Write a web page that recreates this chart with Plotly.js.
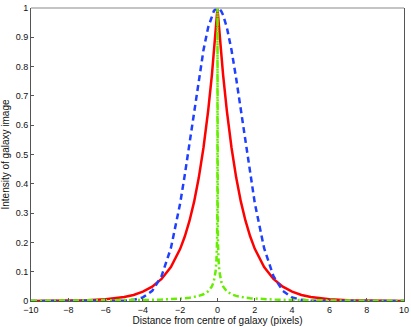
<!DOCTYPE html>
<html>
<head>
<meta charset="utf-8">
<script src="https://cdn.plot.ly/plotly-3.0.1.min.js"></script>
<style>html,body{margin:0;padding:0;background:#fff;}#chart{width:411px;height:327px;}</style>
</head>
<body>
<div id="chart"></div>
<script>
// Sample positions (pixels from galaxy centre)
var xPos = [-10,-9,-8,-7,-6,-5,-4.5,-4,-3.5,-3,-2.5,-2,-1.75,-1.5,-1.25,-1,-0.75,-0.5,-0.3,-0.2,-0.1,-0.05,-0.02,-0.005,0,
            0.005,0.02,0.05,0.1,0.2,0.3,0.5,0.75,1,1.25,1.5,1.75,2,2.5,3,3.5,4,4.5,5,6,7,8,9,10];

// Blue dashed profile
var blueHalf = [0,0,0,0,0.0001,0.001,0.0039,0.0124,0.0347,0.0847,0.180,0.334,0.432,0.539,0.651,0.760,0.857,0.934,0.976,0.989,0.997,0.999,1.0,1.0];
// Red solid profile
var redHalf = [0.0002,0.0004,0.0010,0.0024,0.0057,0.0134,0.0207,0.0318,0.0489,0.0753,0.116,0.178,0.221,0.274,0.340,0.422,0.524,0.650,0.772,0.842,0.917,0.958,0.983,0.996];
// Green dash-dot profile
var greenHalf = [0.0007,0.0009,0.0011,0.0014,0.0018,0.0023,0.0027,0.0032,0.0039,0.0048,0.0061,0.0081,0.0094,0.0113,0.0137,0.0174,0.0230,0.0331,0.0497,0.0664,0.102,0.147,0.218,0.340];
var peakValue = [1];

function mirror(half){ return half.concat(peakValue, half.slice().reverse()); }
var blueVals = mirror(blueHalf);
var redVals = mirror(redHalf);
var greenVals = mirror(greenHalf);

var xTicks = [-10,-8,-6,-4,-2,0,2,4,6,8,10];
var yTicks = [0,0.1,0.2,0.3,0.4,0.5,0.6,0.7,0.8,0.9,1];
var yTickText = ['0','0.1','0.2','0.3','0.4','0.5','0.6','0.7','0.8','0.9','1'];

var traces = [
  {x:xPos, y:redVals, type:'scatter', mode:'lines', line:{color:'#ff0000', width:2.5}, hoverinfo:'none'},
  {x:xPos, y:blueVals, type:'scatter', mode:'lines', line:{color:'#2040ff', width:2.5, dash:'6px,4px'}, hoverinfo:'none'},
  {x:xPos, y:greenVals, type:'scatter', mode:'lines', line:{color:'#66ee00', width:2.5, dash:'6px,3px,2px,3px'}, hoverinfo:'none'}
];

var fnt = {family:'"Liberation Sans", Arial, Helvetica, sans-serif', size:9, color:'#111'};
var layout = {
  width:411, height:327,
  margin:{l:31, r:7, t:8, b:26},
  paper_bgcolor:'#fff', plot_bgcolor:'#fff',
  showlegend:false,
  font:fnt,
  xaxis:{range:[-10,10], tickvals:xTicks, ticks:'inside', ticklen:3, tickcolor:'#555',
         showline:true, linecolor:'#555', linewidth:1, mirror:false, zeroline:false, showgrid:false,
         tickfont:fnt,
         title:{text:'Distance from centre of galaxy (pixels)', font:{family:fnt.family, size:10, color:'#111'}, standoff:2}},
  yaxis:{range:[0,1], tickvals:yTicks, ticktext:yTickText, ticks:'inside', ticklen:3, tickcolor:'#555',
         showline:true, linecolor:'#555', linewidth:1, mirror:true, zeroline:false, showgrid:false,
         tickfont:fnt,
         title:{text:'Intensity of galaxy image', font:{family:fnt.family, size:10, color:'#111'}, standoff:4}},
  shapes:[{type:'line', xref:'paper', yref:'paper', x0:0, x1:1, y0:1, y1:1, line:{color:'#b0b0b0', width:1.5}}]
};
Plotly.newPlot('chart', traces, layout, {staticPlot:true, displayModeBar:false});
</script>
</body>
</html>
